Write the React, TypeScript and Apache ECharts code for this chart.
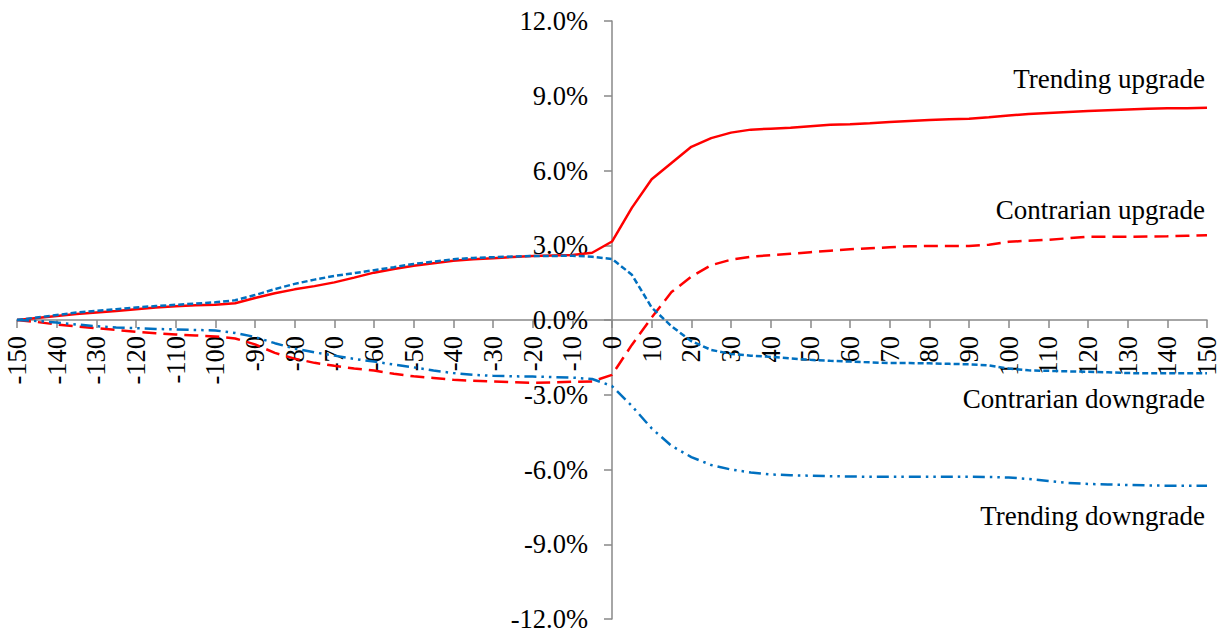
import React, { useEffect, useRef } from "react";
import * as echarts from "echarts";

// Event-time offsets (days relative to the revision)
const offsets = [
  -150, -145, -140, -135, -130, -125, -120, -115, -110, -105,
  -100, -95, -90, -85, -80, -75, -70, -65, -60, -55,
  -50, -45, -40, -35, -30, -25, -20, -15, -10, -5,
  0, 5, 10, 15, 20, 25, 30, 35, 40, 45,
  50, 55, 60, 65, 70, 75, 80, 85, 90, 95,
  100, 105, 110, 115, 120, 125, 130, 135, 140, 145, 150,
];

// Cumulative abnormal returns, in percent
const trendingUpgrade = [
  0.0, 0.08, 0.16, 0.24, 0.3, 0.36, 0.43, 0.5, 0.55, 0.59,
  0.61, 0.67, 0.88, 1.07, 1.23, 1.36, 1.51, 1.7, 1.9, 2.05,
  2.18, 2.28, 2.38, 2.44, 2.48, 2.53, 2.57, 2.59, 2.61, 2.7,
  3.15, 4.5, 5.65, 6.3, 6.95, 7.3, 7.52, 7.64, 7.68, 7.72,
  7.78, 7.84, 7.86, 7.9, 7.95, 7.99, 8.03, 8.06, 8.08, 8.14,
  8.21, 8.27, 8.31, 8.35, 8.39, 8.42, 8.45, 8.48, 8.5, 8.5, 8.52,
];

const contrarianUpgrade = [
  0.0, -0.08, -0.18, -0.26, -0.33, -0.4, -0.47, -0.53, -0.58, -0.62,
  -0.66, -0.74, -0.98, -1.32, -1.55, -1.72, -1.84, -1.95, -2.03, -2.16,
  -2.26, -2.33, -2.4, -2.44, -2.47, -2.5, -2.52, -2.51, -2.48, -2.47,
  -2.2, -1.0, 0.1, 1.12, 1.74, 2.2, 2.42, 2.54, 2.6, 2.66,
  2.72, 2.78, 2.84, 2.88, 2.92, 2.96, 2.97, 2.97, 2.97, 3.02,
  3.14, 3.18, 3.22, 3.28, 3.34, 3.34, 3.34, 3.35, 3.36, 3.38, 3.4,
];

const contrarianDowngrade = [
  0.0, 0.1, 0.2, 0.3, 0.37, 0.43, 0.5, 0.56, 0.61, 0.66,
  0.71, 0.79, 1.0, 1.24, 1.45, 1.62, 1.77, 1.88, 2.0, 2.12,
  2.25, 2.34, 2.44, 2.49, 2.52, 2.55, 2.57, 2.57, 2.58, 2.54,
  2.45, 1.82, 0.5, -0.25, -0.85, -1.2, -1.36, -1.43, -1.48, -1.54,
  -1.6, -1.64, -1.67, -1.7, -1.73, -1.73, -1.74, -1.76, -1.78, -1.82,
  -1.95, -2.02, -2.04, -2.06, -2.08, -2.1, -2.13, -2.14, -2.14, -2.14, -2.14,
];

const trendingDowngrade = [
  0.0, -0.04, -0.1, -0.18, -0.25, -0.3, -0.33, -0.36, -0.38, -0.4,
  -0.42, -0.52, -0.68, -0.93, -1.15, -1.3, -1.43, -1.56, -1.67, -1.79,
  -1.9, -2.03, -2.13, -2.2, -2.24, -2.26, -2.27, -2.29, -2.31, -2.37,
  -2.65, -3.45, -4.35, -5.05, -5.5, -5.82, -6.0, -6.12, -6.2, -6.23,
  -6.25, -6.27, -6.28, -6.29, -6.29, -6.29, -6.29, -6.29, -6.29, -6.3,
  -6.32, -6.38, -6.46, -6.54, -6.58, -6.6, -6.62, -6.64, -6.65, -6.65, -6.65,
];

const seriesNames = [
  "Trending upgrade",
  "Contrarian upgrade",
  "Contrarian downgrade",
  "Trending downgrade",
];

const RED = "#FF0000";
const BLUE = "#0070C0";
const AXIS_GREY = "#898989";
const FONT = "'Liberation Serif', 'Times New Roman', serif";

// Plot area in pixels; both axes cross at the centre (x = 0, y = 0%)
const GRID = { left: 17, right: 18, top: 21, bottom: 14 };
const WIDTH = 1225;
const HEIGHT = 633;
const plotW = WIDTH - GRID.left - GRID.right;
const plotH = HEIGHT - GRID.top - GRID.bottom;

const pairs = (values: number[]) => offsets.map((x, i) => [x, values[i]]);

export default function App() {
  const ref = useRef<HTMLDivElement>(null);

  useEffect(() => {
    if (!ref.current) return;
    const chart = echarts.init(ref.current, null, { renderer: "svg" });

    const lineSeries = (
      name: string,
      values: number[],
      color: string,
      type: any
    ) => ({
      name,
      type: "line",
      data: pairs(values),
      showSymbol: false,
      symbol: "none",
      lineStyle: { color, width: 2.5, type },
      emphasis: { disabled: true },
    });

    const annotation = (text: string, y: number) => ({
      type: "text",
      right: 20,
      top: y - 15,
      style: {
        text,
        fill: "#000",
        font: `27px ${FONT}`,
        align: "right",
      },
    });

    const axisLine = { onZero: false, lineStyle: { color: AXIS_GREY, width: 1.5 } };
    const axisTick = {
      show: true,
      inside: false,
      length: 8,
      lineStyle: { color: AXIS_GREY, width: 1.5 },
    };

    chart.setOption({
      animation: false,
      backgroundColor: "#fff",
      grid: {
        ...GRID,
        containLabel: false,
        outerBoundsMode: "none",
      },
      xAxis: {
        type: "value",
        position: "bottom",
        offset: -plotH / 2,
        min: -150,
        max: 150,
        interval: 10,
        splitLine: { show: false },
        axisLine: { show: true, ...axisLine },
        axisTick,
        axisLabel: {
          rotate: 90,
          margin: 16,
          color: "#000",
          fontFamily: FONT,
          fontSize: 26.5,
          hideOverlap: false,
          showMinLabel: true,
          showMaxLabel: true,
        },
      },
      yAxis: {
        type: "value",
        position: "left",
        offset: -plotW / 2,
        min: -12,
        max: 12,
        interval: 3,
        splitLine: { show: false },
        axisLine: { show: true, ...axisLine },
        axisTick,
        axisLabel: {
          margin: 24,
          color: "#000",
          fontFamily: FONT,
          fontSize: 26.5,
          formatter: (v: number) => `${v.toFixed(1)}%`,
        },
      },
      series: [
        lineSeries(seriesNames[0], trendingUpgrade, RED, "solid"),
        lineSeries(seriesNames[1], contrarianUpgrade, RED, [14, 7]),
        lineSeries(seriesNames[2], contrarianDowngrade, BLUE, [6, 3]),
        lineSeries(seriesNames[3], trendingDowngrade, BLUE, [12, 5, 2.5, 5, 2.5, 5]),
      ],
      graphic: [
        annotation(seriesNames[0], 80),
        annotation(seriesNames[1], 211),
        annotation(seriesNames[2], 400),
        annotation(seriesNames[3], 517),
      ],
    });

    return () => chart.dispose();
  }, []);

  return (
    <div
      ref={ref}
      style={{ position: "fixed", left: 0, top: 0, width: WIDTH, height: HEIGHT }}
    />
  );
}
